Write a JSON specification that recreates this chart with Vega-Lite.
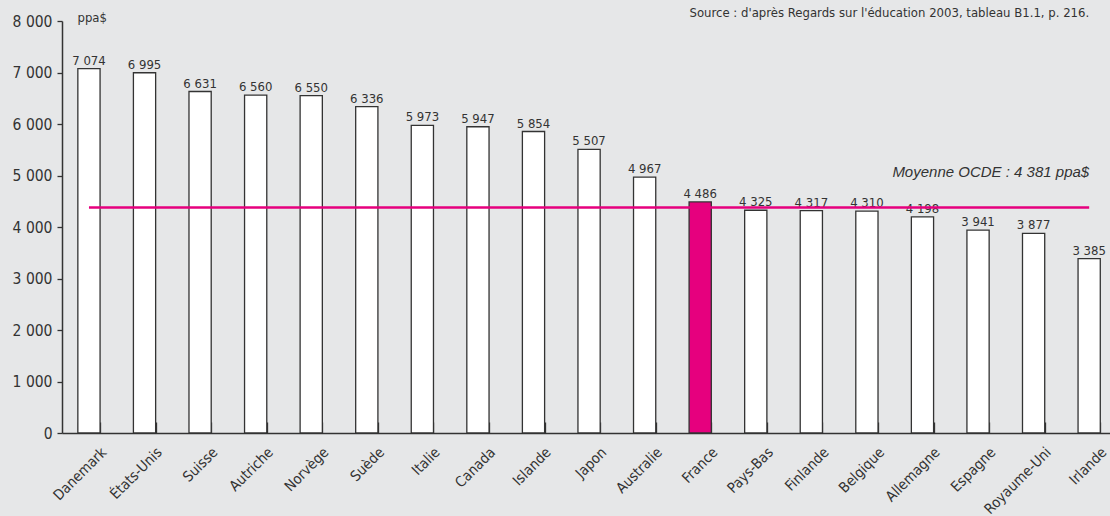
{
  "$schema": "https://vega.github.io/schema/vega-lite/v6.json",
  "width": 1048,
  "height": 412,
  "autosize": {"type": "none"},
  "padding": {"left": 62, "top": 21, "right": 0, "bottom": 83},
  "background": "#e6e7e8",
  "config": {
    "view": {"stroke": null},
    "font": "'Liberation Sans Narrow', 'Arial Narrow', 'DejaVu Sans Condensed', 'Liberation Sans', sans-serif",
    "locale": {"number": {"decimal": ",", "thousands": " ", "grouping": [3], "currency": ["", " €"]}}
  },
  "data": {"values": [
    {"pays": "Danemark", "v": 7074},
    {"pays": "États-Unis", "v": 6995},
    {"pays": "Suisse", "v": 6631},
    {"pays": "Autriche", "v": 6560},
    {"pays": "Norvège", "v": 6550},
    {"pays": "Suède", "v": 6336},
    {"pays": "Italie", "v": 5973},
    {"pays": "Canada", "v": 5947},
    {"pays": "Islande", "v": 5854},
    {"pays": "Japon", "v": 5507},
    {"pays": "Australie", "v": 4967},
    {"pays": "France", "v": 4486},
    {"pays": "Pays-Bas", "v": 4325},
    {"pays": "Finlande", "v": 4317},
    {"pays": "Belgique", "v": 4310},
    {"pays": "Allemagne", "v": 4198},
    {"pays": "Espagne", "v": 3941},
    {"pays": "Royaume-Uni", "v": 3877},
    {"pays": "Irlande", "v": 3385}
  ]},
  "encoding": {
    "x": {
      "field": "pays", "type": "nominal", "sort": null,
      "scale": {"paddingInner": 0.6, "paddingOuter": 0.23, "align": 0.62},
      "axis": {
        "title": null, "labelAngle": -45, "labelFontSize": 14.5, "labelColor": "#333333",
        "tickBand": "extent", "tickSize": -11, "tickColor": "#333333", "tickWidth": 1.3,
        "domainColor": "#333333", "domainWidth": 1.5, "labelPadding": 23, "labelOffset": 10
      }
    },
    "y": {
      "field": "v", "type": "quantitative",
      "scale": {"domain": [0, 8000], "nice": false},
      "axis": {
        "title": "ppa$", "titleAngle": 0, "titleX": 15, "titleY": 0, "titleAlign": "left",
        "titleBaseline": "alphabetic", "titleFontWeight": "normal", "titleFontSize": 13, "titleColor": "#333333",
        "grid": false, "values": [0, 1000, 2000, 3000, 4000, 5000, 6000, 7000, 8000], "format": ",d",
        "tickSize": 5, "tickColor": "#333333", "tickWidth": 1.3, "domainColor": "#333333", "domainWidth": 1.5,
        "labelFontSize": 15.5, "labelColor": "#333333", "labelPadding": 5
      }
    }
  },
  "layer": [
    {
      "mark": {"type": "bar", "stroke": "#333333", "strokeWidth": 1.3},
      "encoding": {
        "fill": {"condition": {"test": "datum.pays === 'France'", "value": "#e6007e"}, "value": "#ffffff"}
      }
    },
    {
      "mark": {"type": "text", "baseline": "alphabetic", "dy": -4, "fontSize": 13, "color": "#333333"},
      "encoding": {"text": {"field": "v", "type": "quantitative", "format": ",d"}}
    },
    {
      "data": {"values": [{"pays": "Danemark", "fin": "Irlande", "v": 4381}]},
      "mark": {"type": "rule", "color": "#e6007e", "strokeWidth": 2.5},
      "encoding": {"x2": {"field": "fin"}}
    },
    {
      "data": {"values": [{"pays": "Irlande", "v": 4381, "t": "Moyenne OCDE : 4 381 ppa$"}]},
      "mark": {"type": "text", "align": "right", "baseline": "alphabetic", "dy": -30, "fontSize": 15, "fontStyle": "italic", "font": "Liberation Sans", "color": "#333333"},
      "encoding": {"text": {"field": "t"}}
    },
    {
      "data": {"values": [{"pays": "Irlande", "v": 8000, "t": "Source : d'après Regards sur l'éducation 2003, tableau B1.1, p. 216."}]},
      "mark": {"type": "text", "align": "right", "baseline": "alphabetic", "dy": -4, "fontSize": 13, "color": "#333333"},
      "encoding": {"text": {"field": "t"}}
    }
  ]
}
